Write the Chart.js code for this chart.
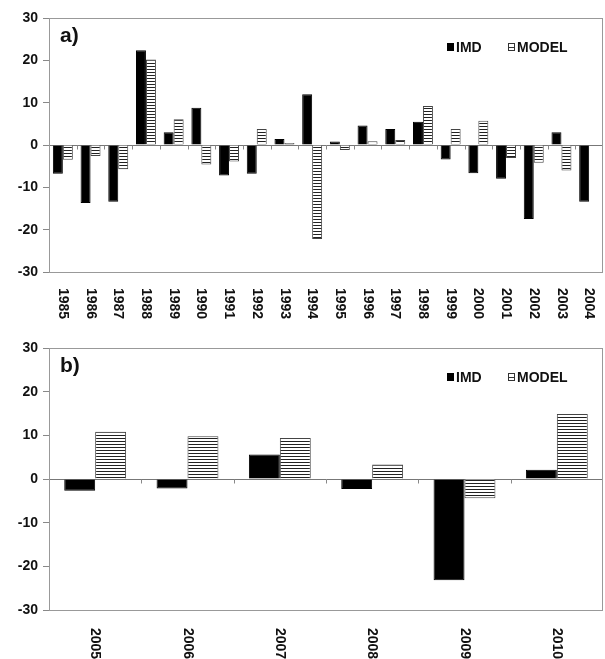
<!DOCTYPE html>
<html>
<head>
<meta charset="utf-8">
<script src="https://cdn.jsdelivr.net/npm/chart.js@4/dist/chart.umd.min.js"></script>
<style>
  html, body { margin: 0; padding: 0; background: #fff; }
  #wrap { position: relative; width: 605px; height: 659px; }
  canvas { position: absolute; left: 0; }
</style>
</head>
<body>
<div id="wrap">
  <canvas id="cA" width="605" height="330" style="top:0;width:605px;height:330px"></canvas>
  <canvas id="cB" width="605" height="329" style="top:330px;width:605px;height:329px"></canvas>
</div>
<script>
// ---- Data ----
const yearsA = ['1985','1986','1987','1988','1989','1990','1991','1992','1993','1994',
                '1995','1996','1997','1998','1999','2000','2001','2002','2003','2004'];
const imdA   = [-6.8, -13.7, -13.4, 22.4, 3.0, 8.8, -7.2, -6.8, 1.4, 12.0,
                 0.8, 4.6, 3.8, 5.5, -3.4, -6.7, -8.0, -17.5, 3.0, -13.4];
const modelA = [-3.5, -2.6, -5.7, 20.2, 6.1, -4.6, -3.9, 3.8, 0.5, -22.2,
                -1.2, 0.9, 1.2, 9.2, 3.8, 5.7, -3.1, -4.2, -6.0, 0];

const yearsB = ['2005','2006','2007','2008','2009','2010'];
const imdB   = [-2.7, -2.2, 5.6, -2.3, -23.2, 2.1];
const modelB = [10.8, 9.8, 9.4, 3.3, -4.4, 14.9];

const seriesNames = ['IMD', 'MODEL'];
const yMin = -30, yMax = 30, yStep = 10;

// ---- Styles ----
const FONT = "'Liberation Sans', Arial, sans-serif";

function stripePattern() {
  const c = document.createElement('canvas');
  c.width = 4; c.height = 3;
  const g = c.getContext('2d');
  g.fillStyle = '#ffffff'; g.fillRect(0, 0, 4, 3);
  g.fillStyle = '#222222'; g.fillRect(0, 0, 4, 1);
  return g.createPattern(c, 'repeat');
}

const panelPlugin = {
  id: 'panelDeco',
  afterDraw(chart, args, opts) {
    const ctx = chart.ctx;
    const a = chart.chartArea;
    const xs = chart.scales.x, ys = chart.scales.y;
    ctx.save();
    // frame
    ctx.strokeStyle = '#999';
    ctx.lineWidth = 1;
    ctx.strokeRect(Math.round(a.left) + 0.5, Math.round(a.top) + 0.5,
                   Math.round(a.right - a.left) - 1, Math.round(a.bottom - a.top));
    // category boundary ticks on zero line
    const y0 = Math.round(ys.getPixelForValue(0)) + 0.5;
    const n = chart.data.labels.length;
    const w = (a.right - a.left) / n;
    ctx.strokeStyle = '#888';
    ctx.beginPath();
    for (let i = 1; i < n; i++) {
      const x = Math.round(xs.getPixelForValue(i) - w / 2) + 0.5;
      ctx.moveTo(x, y0); ctx.lineTo(x, y0 + 4);
    }
    ctx.stroke();
    // rotated x labels (reading top to bottom)
    ctx.fillStyle = '#111';
    ctx.font = 'bold 14px ' + FONT;
    ctx.textAlign = 'left';
    ctx.textBaseline = 'middle';
    chart.data.labels.forEach((lab, i) => {
      const x = xs.getPixelForValue(i);
      ctx.save();
      ctx.translate(x, a.bottom + opts.labelGap);
      ctx.rotate(Math.PI / 2);
      ctx.fillText(lab, 0, 0);
      ctx.restore();
    });
    // panel letter
    ctx.font = 'bold 21px ' + FONT;
    ctx.textBaseline = 'middle';
    ctx.fillText(opts.letter, 60, a.top + 18);
    // legend
    const ly = a.top + 29;
    ctx.font = 'bold 14px ' + FONT;
    ctx.fillStyle = '#000';
    ctx.fillRect(447, ly - 4, 7, 8);
    ctx.fillStyle = '#111';
    ctx.fillText(seriesNames[0], 456, ly + 1);
    ctx.fillStyle = '#fff';
    ctx.fillRect(508, ly - 4, 7, 8);
    ctx.strokeStyle = '#333';
    ctx.strokeRect(508.5, ly - 3.5, 6, 7);
    ctx.beginPath(); ctx.moveTo(508.5, ly + 0.5); ctx.lineTo(514.5, ly + 0.5); ctx.stroke();
    ctx.fillStyle = '#111';
    ctx.fillText(seriesNames[1], 517, ly + 1);
    ctx.restore();
  }
};

function makeChart(id, labels, imd, model, letter, catPct, xAxisH, labelGap) {
  return new Chart(document.getElementById(id), {
    type: 'bar',
    data: {
      labels: labels,
      datasets: [
        { label: seriesNames[0], data: imd, backgroundColor: '#000', borderColor: '#000',
          borderWidth: 1, categoryPercentage: catPct, barPercentage: 1.0 },
        { label: seriesNames[1], data: model, backgroundColor: stripePattern(), borderColor: '#444',
          borderWidth: 1, categoryPercentage: catPct, barPercentage: 1.0 }
      ]
    },
    options: {
      responsive: false,
      animation: false,
      devicePixelRatio: 1,
      layout: { padding: { top: 18, right: 2, left: 0, bottom: 0 } },
      plugins: {
        legend: { display: false },
        tooltip: { enabled: false },
        panelDeco: { letter: letter, labelGap: labelGap }
      },
      scales: {
        x: {
          offset: true,
          grid: { display: false },
          border: { display: false },
          ticks: { display: false },
          afterFit(s) { s.height = xAxisH; }
        },
        y: {
          min: yMin, max: yMax,
          ticks: { stepSize: yStep, color: '#111', padding: 5,
                   font: { family: FONT, size: 14, weight: 'bold' } },
          grid: {
            color: c => (c.tick && c.tick.value === 0) ? '#777' : 'rgba(0,0,0,0)',
            tickColor: '#888', tickLength: 6, lineWidth: 1
          },
          border: { color: '#888' },
          afterFit(s) { s.width = 49; }
        }
      }
    },
    plugins: [panelPlugin]
  });
}

makeChart('cA', yearsA, imdA, modelA, 'a)', 0.72, 58, 16);
makeChart('cB', yearsB, imdB, modelB, 'b)', 0.67, 49, 18);
</script>
</body>
</html>
